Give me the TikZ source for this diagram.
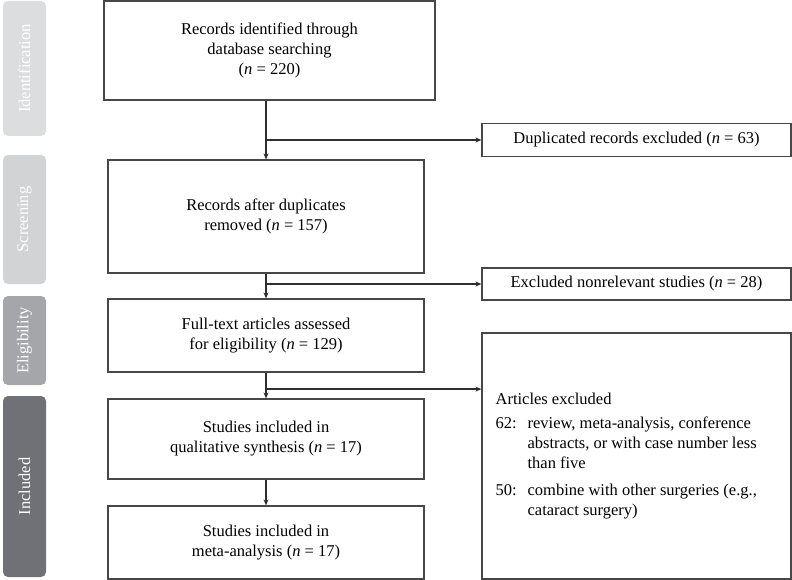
\documentclass[tikz,border=0pt]{standalone}
\usepackage{fontspec}
\setmainfont{Liberation Serif}
\usepackage{tikz}
\usetikzlibrary{arrows.meta, positioning}

\definecolor{boxline}{HTML}{474747}
\definecolor{arrowline}{HTML}{2E2E2E}
\definecolor{identcol}{HTML}{DCDDDF}
\definecolor{screencol}{HTML}{D2D3D5}
\definecolor{eligcol}{HTML}{A5A6AA}
\definecolor{inclcol}{HTML}{707176}

\begin{document}
\begin{tikzpicture}[x=1pt, y=-1pt, on grid, node distance=103.5pt,
    font=\fontsize{16.5}{20}\selectfont,
    stage/.style={draw=boxline, line width=1.2pt, align=center, inner sep=0pt},
    excl/.style={stage, minimum width=309pt},
    phase/.style={rounded corners=5pt, minimum height=43pt, text=white, rotate=90, inner sep=0pt},
    flow/.style={draw=arrowline, line width=1.5pt, -{Stealth[length=6pt, width=5pt]}}]
  \useasboundingbox (0,0) rectangle (792,580);

  % phases on the left
  \node[phase, fill=identcol,  minimum width=135pt] (ident)  at (24.5,68.5)  {Identification};
  \node[phase, fill=screencol, minimum width=129pt] (screen) at (24.5,219.5) {Screening};
  \node[phase, fill=eligcol,   minimum width=89pt]  (elig)   at (24.5,340.5) {Eligibility};
  \node[phase, fill=inclcol,   minimum width=181pt] (incl)   at (24.5,486.5) {Included};

  % main column
  \node[stage, minimum width=331pt, minimum height=99pt] (records) at (269.5,50.5)
    {Records identified through\\database searching\\(\textit{n} = 220)};
  \node[stage, minimum width=316pt, minimum height=113pt] (dedup) at (266,216.5)
    {Records after duplicates\\removed (\textit{n} = 157)};
  \node[stage, minimum width=316pt, minimum height=73pt, below=119pt of dedup] (fulltext)
    {Full-text articles assessed\\for eligibility (\textit{n} = 129)};
  \node[stage, minimum width=316pt, minimum height=80pt, below=of fulltext] (qual)
    {Studies included in\\qualitative synthesis (\textit{n} = 17)};
  \node[stage, minimum width=316pt, minimum height=73pt, below=of qual] (meta)
    {Studies included in\\meta-analysis (\textit{n} = 17)};

  % exclusions on the right
  \node[excl, minimum height=33pt] (dup) at (636.5,140)
    {Duplicated records excluded (\textit{n} = 63)};
  \node[excl, minimum height=32pt, below=144pt of dup] (nonrel)
    {Excluded nonrelevant studies (\textit{n} = 28)};
  \node[excl, minimum height=246pt, below=172pt of nonrel] (articles) {};
  \node[anchor=west, align=left, inner sep=0pt] (arttext) at ([xshift=14pt]articles.west)
    {\begin{tabular}{@{}p{32pt}@{}l@{}}
      \multicolumn{2}{@{}l}{Articles excluded}\\[4pt]
      62: & review, meta-analysis, conference\\
          & abstracts, or with case number less\\
          & than five\\[7pt]
      50: & combine with other surgeries (e.g.,\\
          & cataract surgery)
    \end{tabular}};

  % connectors
  \draw[flow] (records.south -| dedup.north) -- (dedup.north);
  \draw[flow] (dup.west -| dedup.north) -- (dup.west);
  \draw[flow] (dedup.south) -- (fulltext.north);
  \draw[flow] (nonrel.west -| dedup.south) -- (nonrel.west);
  \draw[flow] (fulltext.south) -- (qual.north);
  \path (fulltext.south) ++(0,16.5) coordinate (split);
  \draw[flow] (split) -- (split -| articles.west);
  \draw[flow] (qual.south) -- (meta.north);
\end{tikzpicture}
\end{document}
